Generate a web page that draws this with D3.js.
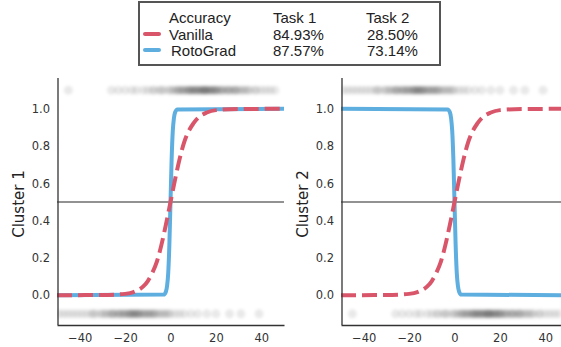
<!DOCTYPE html>
<html>
<head>
<meta charset="utf-8">
<script src="https://cdn.jsdelivr.net/npm/d3@7"></script>
<style>
  body { margin: 0; background: #fff; }
  svg { display: block; }
</style>
</head>
<body>
<svg id="chart" width="561" height="347"></svg>
<script>
// legend table
const legendHeader = ['Accuracy', 'Task 1', 'Task 2'];
const methods = ['Vanilla', 'RotoGrad'];
const task1Acc = ['84.93%', '87.57%'];
const task2Acc = ['28.50%', '73.14%'];

const xTicks = [-40, -20, 0, 20, 40];
const yTicks = [0.0, 0.2, 0.4, 0.6, 0.8, 1.0];

// curves
const vanillaX = [-50, -30, -20, -16, -12, -10, -8, -6, -4, -2, 0, 2, 4, 6, 8, 10, 12, 16, 20, 30, 50];
const vanillaY = [0, 0.001, 0.007, 0.018, 0.047, 0.076, 0.12, 0.18, 0.27, 0.38, 0.5, 0.62, 0.73, 0.82, 0.88, 0.92, 0.95, 0.98, 0.993, 0.999, 1];
const rotoX = [-50, -3, -2, -1.5, -1, -0.5, 0, 0.5, 1, 1.5, 2, 3, 50];
const rotoY1 = [0, 0.003, 0.02, 0.05, 0.12, 0.27, 0.5, 0.73, 0.88, 0.95, 0.98, 0.997, 1];
const rotoY2 = [1, 0.997, 0.98, 0.95, 0.88, 0.73, 0.5, 0.27, 0.12, 0.05, 0.02, 0.003, 0];

// samples (x positions), drawn as faint dots at y = 1.1 / -0.1
const samplesPos = [-45, -26, -23, -20, -17, -15, -12, -10, -8, -7, -5, -4, -3, -1, 0, 1, 2, 3, 3.5, 4, 5, 5.5, 6, 7, 7.5,
  8, 8.5, 9, 9.5, 10, 10.5, 11, 11.5, 12, 12.5, 13, 13.5, 14, 14.5, 15, 15, 15.5, 16, 16.5, 17, 17.5, 18, 18.5, 19,
  19.5, 20, 20.5, 21, 22, 22.5, 23, 24, 25, 25.5, 26, 27, 28, 28.5, 29, 30, 31, 32, 33, 34, 35, 37, 38, 40, 42, 44, 46];
const samplesNeg = [-49, -47, -45, -43, -41, -39, -37, -35, -34, -33, -31, -30, -29, -28, -27, -26, -25.5, -25, -24,
  -23, -22.5, -22, -21, -20.5, -20, -19, -18.5, -18, -17.5, -17, -16.5, -16, -15.5, -15, -14.5, -14, -13.5, -13, -12,
  -11.5, -11, -10, -9.5, -9, -8, -7.5, -7, -6, -5, -4, -3, -2, -1, 0, 2, 4, 6, 9, 12, 16, 20, 26, 31, 39];

const blue = '#5eaee0';
const red = '#d9566a';

const svg = d3.select('#chart');
const defs = svg.append('defs');
defs.append('filter').attr('id', 'soft')
  .attr('x', '-10%').attr('y', '-50%').attr('width', '120%').attr('height', '200%')
  .append('feGaussianBlur').attr('stdDeviation', 1.6);

const plotTop = 79, plotBottom = 325;
const y = d3.scaleLinear().domain([-0.16, 1.16]).range([plotBottom, plotTop]);

const panels = [
  { left: 57, right: 284, label: 'Cluster 1', labelX: 19, roto: rotoY1, topS: samplesPos, botS: samplesNeg },
  { left: 341, right: 568, label: 'Cluster 2', labelX: 303, roto: rotoY2, topS: samplesNeg, botS: samplesPos }
];

panels.forEach((p, i) => {
  const x = d3.scaleLinear().domain([-50, 50]).range([p.left, p.right]);
  const g = svg.append('g');

  defs.append('clipPath').attr('id', 'clip' + i)
    .append('rect')
    .attr('x', p.left).attr('y', plotTop)
    .attr('width', p.right - p.left).attr('height', plotBottom - plotTop);

  const plot = g.append('g').attr('clip-path', `url(#clip${i})`);

  // faint sample dots
  const dots = plot.append('g').attr('filter', 'url(#soft)');
  [[p.topS, 1.1], [p.botS, -0.1]].forEach(([arr, yv]) => {
    dots.selectAll(null)
      .data(arr)
      .enter()
      .append('circle')
      .attr('cx', d => x(d))
      .attr('cy', y(yv))
      .attr('r', 4.5)
      .attr('fill', '#000')
      .attr('fill-opacity', 0.085);
  });

  // threshold line
  plot.append('line')
    .attr('x1', p.left).attr('x2', p.right)
    .attr('y1', y(0.5)).attr('y2', y(0.5))
    .attr('stroke', '#6e6e6e').attr('stroke-width', 1.3);

  const line = d3.line().curve(d3.curveMonotoneX);

  plot.append('path')
    .attr('d', line(rotoX.map((d, j) => [x(d), y(p.roto[j])])))
    .attr('fill', 'none')
    .attr('stroke', blue)
    .attr('stroke-width', 4)
    .attr('stroke-linejoin', 'round')
    .attr('stroke-linecap', 'round');

  plot.append('path')
    .attr('d', line(vanillaX.map((d, j) => [x(d), y(vanillaY[j])])))
    .attr('fill', 'none')
    .attr('stroke', red)
    .attr('stroke-width', 4)
    .attr('stroke-dasharray', '15,6');

  // axes
  const xAxis = g.append('g')
    .attr('transform', `translate(0,${plotBottom})`)
    .call(d3.axisBottom(x).tickValues(xTicks).tickSize(0).tickSizeOuter(0).tickPadding(9)
      .tickFormat(d3.format('d')));
  const yAxis = g.append('g')
    .attr('transform', `translate(${p.left + 1},0)`)
    .call(d3.axisLeft(y).tickValues(yTicks).tickSize(0).tickSizeOuter(0).tickPadding(8)
      .tickFormat(d3.format('.1f')));

  [xAxis, yAxis].forEach(a => {
    a.select('.domain').attr('stroke', '#333').attr('stroke-width', 1.3);
    a.selectAll('text')
      .attr('fill', '#333')
      .style('font-family', 'DejaVu Sans')
      .style('font-size', '11.5px');
  });
  yAxis.select('.domain').attr('d', `M0,${plotBottom}V${plotTop - 1}`);

  g.append('text')
    .attr('transform', `translate(${p.labelX},${(plotTop + plotBottom) / 2 + 2}) rotate(-90)`)
    .attr('text-anchor', 'middle')
    .attr('dy', '0.35em')
    .style('font-family', 'DejaVu Sans')
    .style('font-size', '15px')
    .attr('fill', '#222')
    .text(p.label);
});

// legend
const leg = svg.append('g').style('font-family', 'Liberation Sans, Arial, sans-serif').style('font-size', '15px');
leg.append('rect')
  .attr('x', 139).attr('y', 2).attr('width', 301).attr('height', 63)
  .attr('fill', '#fff').attr('stroke', '#555').attr('stroke-width', 2);

const colX = [169, 273, 366];
legendHeader.forEach((t, i) => {
  leg.append('text').attr('x', colX[i]).attr('y', 23).attr('fill', '#222').text(t);
});
const rowY = [40, 56];
const handleColors = [red, blue];
methods.forEach((m, i) => {
  leg.append('line')
    .attr('x1', 145).attr('x2', 159)
    .attr('y1', rowY[i] - 6).attr('y2', rowY[i] - 6)
    .attr('stroke', handleColors[i]).attr('stroke-width', 4).attr('stroke-linecap', 'round');
  leg.append('text').attr('x', colX[0] + (i === 1 ? 2 : 0)).attr('y', rowY[i]).attr('fill', '#222').text(m);
  leg.append('text').attr('x', colX[1]).attr('y', rowY[i]).attr('fill', '#222').text(task1Acc[i]);
  leg.append('text').attr('x', colX[2] + 1).attr('y', rowY[i]).attr('fill', '#222').text(task2Acc[i]);
});
</script>
</body>
</html>
